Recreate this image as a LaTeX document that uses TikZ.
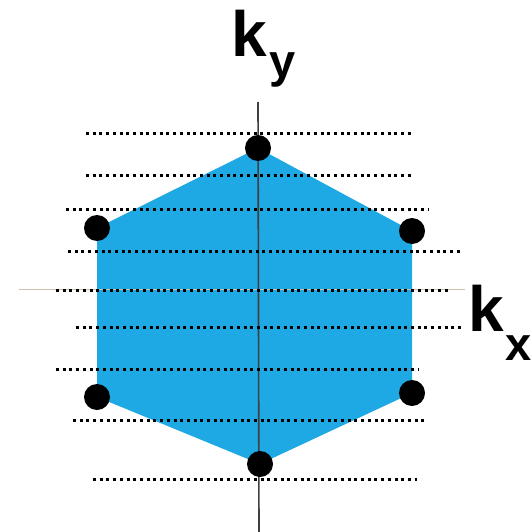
\documentclass[tikz,border=0pt]{standalone}
\usepackage{fontspec}
\setmainfont{Liberation Sans}
\definecolor{zoneblue}{RGB}{30,168,228}
\definecolor{axistan}{RGB}{205,195,175}
\tikzset{
  kline/.style={line width=3pt, dash pattern=on 3pt off 3.7pt, black},
  hdot/.style={circle, fill=black, inner sep=0pt, minimum size=26pt},
  klabel/.style={inner sep=0pt, anchor=base west, font=\bfseries\fontsize{64}{64}\selectfont},
  ksub/.style={inner sep=0pt, anchor=base west, font=\bfseries\fontsize{47}{47}\selectfont},
}
\begin{document}
\begin{tikzpicture}[x=1pt,y=-1pt]
  \useasboundingbox (0,0) rectangle (532,532);
  % corners of the zone
  \coordinate (t) at (258,148);
  \coordinate (ur) at (412,231);
  \coordinate (lr) at (412,393);
  \coordinate (b) at (260,464);
  \coordinate (ll) at (97,397);
  \coordinate (ul) at (97,228);
  \fill[zoneblue] (t) -- (ur) -- (lr) -- (b) -- (ll) -- (ul) -- cycle;
  % axes
  \coordinate (xl) at (19,289);
  \coordinate (xr) at (465,289);
  \coordinate (yt) at (258,102);
  \coordinate (yb) at (259,532);
  \draw[axistan, line width=0.8pt] (xl) -- (xr);
  \draw[black!75, line width=1.6pt] (yt) -- (yb);
  % scan lines
  \foreach \y/\a/\b in {133/86/411, 175/86/411, 209/66/428, 251/68/461,
      290/56/450, 327/76/461, 369/56/419, 420/73/428, 479/93/417}
    \draw[kline] (\a,\y) -- (\b,\y);
  \node[hdot] (dt) at (t) {};
  \node[hdot] (dur) at (ur) {};
  \node[hdot] (dlr) at (lr) {};
  \node[hdot] (db) at (b) {};
  \node[hdot] (dll) at (ll) {};
  \node[hdot] (dul) at (ul) {};
  \node[klabel] (ky) at (231,57) {k};
  \node[ksub] (kys) at (269,78) {y};
  \node[klabel] (kx) at (468,331) {k};
  \node[ksub] (kxs) at (505,360) {x};
\end{tikzpicture}
\end{document}
